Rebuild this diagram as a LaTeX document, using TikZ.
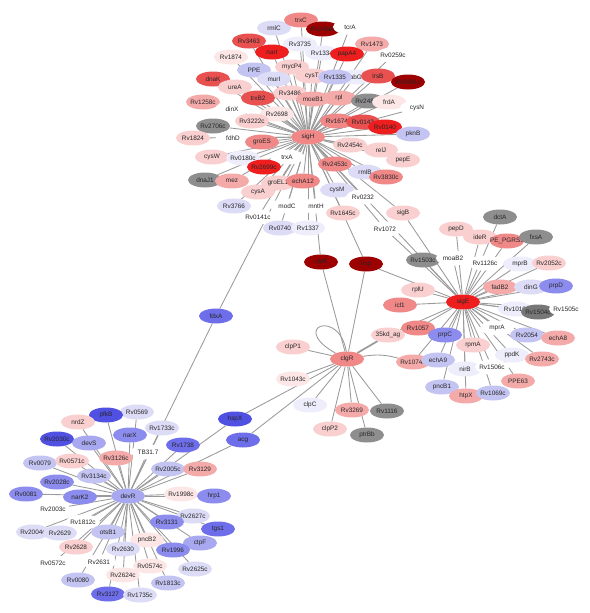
\documentclass[tikz,border=0pt]{standalone}
\usepackage{fontspec}
\setmainfont{Liberation Sans}
\usetikzlibrary{shapes.geometric}
\pgfdeclarelayer{bg}
\pgfsetlayers{bg,main}
\definecolor{cA}{HTML}{9C0000}
\definecolor{cB}{HTML}{EE1E1E}
\definecolor{cC}{HTML}{E95050}
\definecolor{cD}{HTML}{F08888}
\definecolor{cE}{HTML}{F5AAAA}
\definecolor{cF}{HTML}{F9CFCF}
\definecolor{cG}{HTML}{FCE6E6}
\definecolor{cW}{HTML}{FFFFFF}
\definecolor{lA}{HTML}{EDEDFB}
\definecolor{lB}{HTML}{DCDCF7}
\definecolor{lC}{HTML}{C4C4F3}
\definecolor{lD}{HTML}{A8A8F0}
\definecolor{lE}{HTML}{8C8CEE}
\definecolor{lF}{HTML}{6E6EEA}
\definecolor{lG}{HTML}{5050E2}
\definecolor{gA}{HTML}{8E8E8E}
\definecolor{gB}{HTML}{777777}
\definecolor{edgec}{HTML}{9A9A9A}
\definecolor{txt}{HTML}{262626}
\def\mynd#1#2#3#4#5{\node[nd,fill=#4] (#1) at (#2,#3) {#5};}
\begin{document}
\begin{tikzpicture}[x=1pt,y=-1pt,
  nd/.style={ellipse, minimum width=34pt, minimum height=15pt, inner xsep=-6pt, inner ysep=0pt,
    font=\fontsize{6.4}{7}\selectfont, text=txt},
  ed/.style={draw=edgec, line width=0.85pt},
  edthick/.style={draw=edgec, line width=1.7pt}]
\useasboundingbox (0,0) rectangle (589,613);
% ---- sigH cluster
\mynd{rmlC}{274}{28}{lB}{rmlC}
\mynd{trxC}{301}{20}{cD}{trxC}
\mynd{Rv3463}{249}{41}{cC}{Rv3463}
\mynd{Rv3735}{300}{44}{lA}{Rv3735}
\mynd{Rv1874}{231}{57}{cG}{Rv1874}
\mynd{narI}{272}{52}{cB}{narI}
\mynd{PPE}{254}{70}{lC}{PPE}
\mynd{mycP4}{292}{67}{cF}{mycP4}
\mynd{dnaK}{213}{79}{cC}{dnaK}
\mynd{ureA}{235}{87}{cF}{ureA}
\mynd{murI}{274}{79}{lB}{murI}
\mynd{tDR}{323}{29}{cA}{Rv2466c}
\mynd{tcrA}{350}{27}{cW}{tcrA}
\mynd{Rv1473}{372}{44}{cE}{Rv1473}
\mynd{Rv1334}{322}{53}{lA}{Rv1334}
\mynd{papA4}{347}{54}{cB}{papA4}
\mynd{Rv0259c}{393}{55}{cW}{Rv0259c}
\mynd{cysT}{312}{76}{cF}{cysT}
\mynd{fabG}{355}{77}{lA}{fabG}
\mynd{Rv1335}{335}{77}{lC}{Rv1335}
\mynd{lrsB}{378}{76}{cC}{lrsB}
\mynd{DRb}{408}{82}{cA}{Rv0991c}
\mynd{Rv3486}{290}{93}{cF}{Rv3486}
\mynd{trxB2}{258}{98}{cC}{trxB2}
\mynd{Rv1258c}{203}{102}{cE}{Rv1258c}
\mynd{dinX}{232}{109}{cW}{dinX}
\mynd{Rv2698}{277}{114}{cG}{Rv2698}
\mynd{Rv2706c}{213}{126}{gA}{Rv2706c}
\mynd{Rv3222c}{252}{121}{cF}{Rv3222c}
\mynd{Rv1824}{193}{138}{cF}{Rv1824}
\mynd{fdhD}{233}{138}{cW}{fdhD}
\mynd{groES}{262}{142}{cD}{groES}
\mynd{cysW}{212}{157}{cF}{cysW}
\mynd{Rv0180c}{243}{158}{lA}{Rv0180c}
\mynd{trxA}{287}{157}{cW}{trxA}
\mynd{Rv2699c}{264}{167}{cB}{Rv2699c}
\mynd{dnaJ1}{205}{180}{gA}{dnaJ1}
\mynd{mez}{232}{181}{cE}{mez}
\mynd{groEL1}{278}{183}{cF}{groEL1}
\mynd{cysA}{258}{192}{cF}{cysA}
\mynd{echA12}{303}{181}{cD}{echA12}
\mynd{moeB1}{313}{99}{cE}{moeB1}
\mynd{rpl}{339}{98}{cE}{rpl}
\mynd{Rv2486c}{368}{101}{gA}{Rv2486c}
\mynd{frdA}{389}{102}{cG}{frdA}
\mynd{cysN}{417}{108}{cW}{cysN}
\mynd{Rv1674}{337}{121}{cD}{Rv1674}
\mynd{Rv0142}{363}{122}{cC}{Rv0142}
\mynd{Rv0140}{385}{127}{cB}{Rv0140}
\mynd{pknB}{413}{134}{lC}{pknB}
\mynd{sigH}{308}{137}{cD}{sigH}
\mynd{Rv2454c}{350}{145}{cF}{Rv2454c}
\mynd{relJ}{381}{150}{cF}{relJ}
\mynd{pepE}{403}{160}{cF}{pepE}
\mynd{Rv2453c}{335}{164}{cD}{Rv2453c}
\mynd{rmlB}{365}{172}{lB}{rmlB}
\mynd{Rv3830c}{386}{177}{cD}{Rv3830c}
\mynd{cysM}{337}{190}{lB}{cysM}
\mynd{Rv3766}{234}{206}{lB}{Rv3766}
\mynd{Rv0141c}{258}{217}{cW}{Rv0141c}
\mynd{modC}{287}{206}{cW}{modC}
\mynd{mntH}{316}{206}{cW}{mntH}
\mynd{Rv0232}{363}{197}{cW}{Rv0232}
\mynd{Rv1645c}{343}{213}{cF}{Rv1645c}
\mynd{sigB}{403}{213}{cF}{sigB}
\mynd{Rv0740}{280}{228}{lB}{Rv0740}
\mynd{Rv1337}{308}{228}{lA}{Rv1337}
\mynd{Rv1072}{385}{229}{cW}{Rv1072}
\mynd{clpB}{321}{262}{cA}{clpB}
\mynd{hsp}{366}{264}{cA}{hsp}
\mynd{fdxA}{216}{316}{lF}{fdxA}
% ---- sigE cluster
\mynd{dctA}{500}{217}{gA}{dctA}
\mynd{pepD}{456}{229}{cF}{pepD}
\mynd{ideR}{480}{237}{cF}{ideR}
\mynd{PEPGRS}{507}{241}{cD}{PE\_PGRS1}
\mynd{fxsA}{536}{237}{gA}{fxsA}
\mynd{Rv1503c}{423}{260}{gA}{Rv1503c}
\mynd{moaB2}{453}{258}{cW}{moaB2}
\mynd{Rv1126c}{485}{263}{cW}{Rv1126c}
\mynd{mprB}{520}{264}{lA}{mprB}
\mynd{Rv2052c}{549}{263}{cF}{Rv2052c}
\mynd{fadB2}{500}{287}{cE}{fadB2}
\mynd{dinG}{531}{287}{lB}{dinG}
\mynd{prpD}{556}{286}{lE}{prpD}
\mynd{rplU}{418}{290}{cF}{rplU}
\mynd{sigE}{463}{302}{cB}{sigE}
\mynd{icl1}{400}{305}{cD}{icl1}
\mynd{Rv1010}{515}{309}{lA}{Rv1010}
\mynd{Rv1504c}{538}{312}{gB}{Rv1504c}
\mynd{Rv1505c}{566}{309}{cW}{Rv1505c}
\mynd{Rv1057}{418}{328}{cD}{Rv1057}
\mynd{kd35}{388}{335}{cF}{35kd\_ag}
\mynd{mprA}{497}{328}{cW}{mprA}
\mynd{Rv2054}{527}{335}{lC}{Rv2054}
\mynd{echA8}{558}{338}{cE}{echA8}
\mynd{rpmA}{473}{345}{cF}{rpmA}
\mynd{ppdK}{512}{355}{lA}{ppdK}
\mynd{Rv2743c}{542}{359}{cE}{Rv2743c}
\mynd{Rv1074c}{413}{362}{cE}{Rv1074c}
\mynd{prpC}{445}{335}{lE}{prpC}
\mynd{echA9}{438}{360}{lC}{echA9}
\mynd{nirB}{465}{369}{lA}{nirB}
\mynd{Rv1506c}{492}{367}{cW}{Rv1506c}
\mynd{PPE63}{518}{381}{cE}{PPE63}
\mynd{pncB1}{442}{387}{lC}{pncB1}
\mynd{htpX}{466}{396}{cE}{htpX}
\mynd{Rv1069c}{493}{393}{lC}{Rv1069c}
% ---- clgR cluster
\mynd{clgR}{347}{359}{cD}{clgR}
\mynd{clpP1}{293}{347}{cF}{clpP1}
\mynd{Rv1043c}{293}{379}{cG}{Rv1043c}
\mynd{clpC}{310}{405}{lA}{clpC}
\mynd{Rv3269}{352}{410}{cE}{Rv3269}
\mynd{Rv1116}{387}{411}{gA}{Rv1116}
\mynd{clpP2}{330}{429}{cF}{clpP2}
\mynd{ptrBb}{367}{435}{gA}{ptrBb}
% ---- devR cluster
\mynd{hspX}{235}{419}{lG}{hspX}
\mynd{acg}{243}{440}{lF}{acg}
\mynd{Rv0569}{137}{412}{lB}{Rv0569}
\mynd{pfkB}{106}{415}{lG}{pfkB}
\mynd{narX}{130}{435}{lE}{narX}
\mynd{Rv1733c}{162}{428}{lB}{Rv1733c}
\mynd{TBthree}{148}{452}{cW}{TB31.7}
\mynd{Rv1738}{183}{445}{lF}{Rv1738}
\mynd{Rv2005c}{168}{469}{lC}{Rv2005c}
\mynd{Rv3129}{200}{469}{cE}{Rv3129}
\mynd{nrdZ}{78}{422}{cF}{nrdZ}
\mynd{Rv2030c}{57}{439}{lG}{Rv2030c}
\mynd{devS}{89}{443}{lD}{devS}
\mynd{Rv0079}{40}{463}{lC}{Rv0079}
\mynd{Rv0571c}{72}{461}{cF}{Rv0571c}
\mynd{Rv3126c}{116}{458}{cE}{Rv3126c}
\mynd{Rv2028c}{57}{482}{lE}{Rv2028c}
\mynd{Rv3134c}{94}{476}{lC}{Rv3134c}
\mynd{Rv0081}{26}{494}{lE}{Rv0081}
\mynd{narK2}{80}{497}{lE}{narK2}
\mynd{devR}{128}{496}{lD}{devR}
\mynd{Rv1998c}{181}{494}{cG}{Rv1998c}
\mynd{hrp1}{214}{496}{lE}{hrp1}
\mynd{Rv2003c}{53}{509}{cW}{Rv2003c}
\mynd{Rv2627c}{193}{516}{lB}{Rv2627c}
\mynd{Rv3131}{167}{522}{lE}{Rv3131}
\mynd{tgs1}{218}{529}{lF}{tgs1}
\mynd{Rv1812c}{83}{522}{cW}{Rv1812c}
\mynd{Rv2004c}{33}{532}{lB}{Rv2004c}
\mynd{Rv2629}{60}{533}{lB}{Rv2629}
\mynd{otsB1}{108}{532}{lC}{otsB1}
\mynd{pncB2}{147}{540}{cG}{pncB2}
\mynd{ctpF}{200}{543}{lD}{ctpF}
\mynd{Rv2628}{76}{547}{cF}{Rv2628}
\mynd{Rv2630}{123}{549}{lB}{Rv2630}
\mynd{Rv1996}{173}{550}{lE}{Rv1996}
\mynd{Rv0572c}{53}{563}{cW}{Rv0572c}
\mynd{Rv2631}{99}{562}{cW}{Rv2631}
\mynd{Rv0574c}{150}{566}{cG}{Rv0574c}
\mynd{Rv2625c}{195}{569}{lB}{Rv2625c}
\mynd{Rv2624c}{123}{575}{cG}{Rv2624c}
\mynd{Rv0080}{78}{580}{lC}{Rv0080}
\mynd{Rv1813c}{168}{583}{lC}{Rv1813c}
\mynd{Rv3127}{108}{594}{lF}{Rv3127}
\mynd{Rv1735c}{140}{595}{lB}{Rv1735c}
% ---- edges
\begin{pgfonlayer}{bg}
\fill[white] (0,0) rectangle (589,613);
\foreach \t in {rmlC,trxC,Rv3463,Rv3735,Rv1874,narI,PPE,mycP4,dnaK,ureA,murI,Rv3486,trxB2,tDR,tcrA,Rv1473,Rv1334,papA4,Rv0259c,cysT,Rv1335,fabG,lrsB,DRb,Rv2486c,Rv1258c,dinX,Rv2698,Rv2706c,Rv3222c,Rv1824,fdhD,groES,cysW,Rv0180c,trxA,Rv2699c,dnaJ1,mez,groEL1,cysA,echA12,moeB1,rpl,frdA,cysN,Rv1674,Rv0142,Rv0140,pknB,Rv2454c,relJ,pepE,Rv2453c,rmlB,Rv3830c,cysM,Rv3766,Rv0141c,modC,mntH,Rv0232,Rv1645c,sigB,Rv0740,Rv1337,Rv1072,clpB,hsp,fdxA,sigE}
  \draw[ed] (sigH) -- (\t);
\foreach \t in {sigB,Rv1072,hsp,dctA,pepD,ideR,fxsA,PEPGRS,Rv1503c,moaB2,Rv1126c,mprB,Rv2052c,fadB2,dinG,prpD,rplU,icl1,Rv1010,Rv1504c,Rv1505c,Rv1057,kd35,prpC,mprA,Rv2054,echA8,rpmA,ppdK,Rv2743c,Rv1074c,echA9,nirB,Rv1506c,PPE63,pncB1,htpX,Rv1069c}
  \draw[ed] (sigE) -- (\t);
\foreach \t in {clpB,hsp,clpP1,Rv1043c,clpC,Rv3269,Rv1116,clpP2,ptrBb,hspX,acg}
  \draw[ed] (clgR) -- (\t);
\draw[edthick] (clgR) -- (kd35);
\draw[ed] (clgR) to[bend left=12] (Rv1074c);
\draw[ed] (clgR.center) .. controls (345,303) and (278,328) .. (clgR.center);
\foreach \t in {hspX,acg,fdxA,Rv0569,pfkB,narX,Rv1733c,TBthree,Rv1738,Rv2005c,Rv3129,nrdZ,Rv2030c,devS,Rv0079,Rv0571c,Rv3126c,Rv2028c,Rv3134c,Rv0081,narK2,Rv1998c,hrp1,Rv2003c,Rv2627c,Rv3131,tgs1,Rv1812c,Rv2004c,Rv2629,otsB1,pncB2,ctpF,Rv2628,Rv2630,Rv1996,Rv0572c,Rv2631,Rv0574c,Rv2625c,Rv2624c,Rv0080,Rv1813c,Rv3127,Rv1735c}
  \draw[ed] (devR) -- (\t);
\end{pgfonlayer}
\end{tikzpicture}
\end{document}
